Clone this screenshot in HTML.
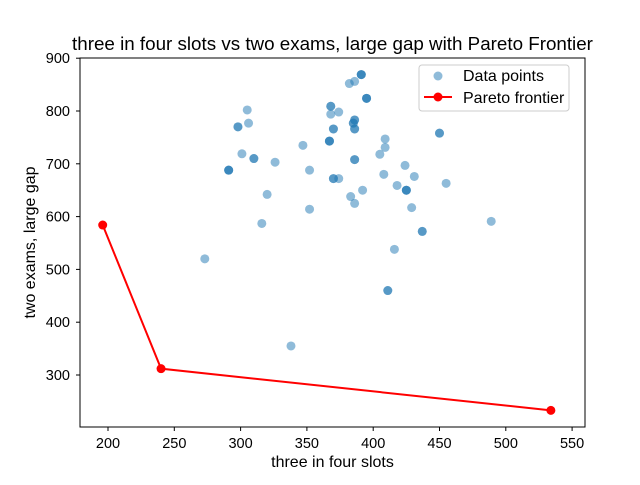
<!DOCTYPE html>
<html><head><meta charset="utf-8"><style>body{margin:0;background:#fff}svg{font-family:"Liberation Sans","DejaVu Sans",sans-serif}</style></head>
<body>
<svg id="chart" width="640" height="480" xmlns="http://www.w3.org/2000/svg"></svg>
<script>
const xTicks=[200,250,300,350,400,450,500,550];
const yTicks=[300,400,500,600,700,800,900];
const dataX=[273,291,291,291,298,298,305,306,301,310,310,326,320,316,338,347,352,352,382,386,391,391,391,395,395,395,368,368,368,374,386,386,385,385,386,386,370,370,367,367,367,409,409,386,386,405,450,450,370,370,374,408,424,431,418,425,425,425,455,392,383,386,429,437,437,489,416,411,411];
const dataY=[520,688,688,688,770,770,802,777,719,710,710,703,642,587,355,735,688,614,852,856,869,869,869,824,824,824,809,809,794,798,783,783,777,777,766,766,766,766,743,743,743,747,731,708,708,718,758,758,672,672,672,680,697,676,659,650,650,650,663,650,638,625,617,572,572,591,538,460,460];
const paretoX=[196,240,534];
const paretoY=[584,312,233];
const L=80,R=585,T=58,B=427;
const sx=v=>108+(v-200)*1.326;
const sy=v=>375-(v-300)*0.528;
const svg=document.getElementById('chart');
const NS='http://www.w3.org/2000/svg';
function mk(tag,attrs,parent){const e=document.createElementNS(NS,tag);for(const k in attrs)e.setAttribute(k,attrs[k]);(parent||svg).appendChild(e);return e;}
const title=mk('text',{x:(L+R)/2,y:50,'text-anchor':'middle','font-size':18.8});title.textContent='three in four slots vs two exams, large gap with Pareto Frontier';


const pts=mk('g',{});


for(let i=0;i<dataX.length;i++){const c=mk('circle',{cx:sx(dataX[i]),cy:sy(dataY[i]),r:4.5,fill:'#1f77b4','fill-opacity':0.5},pts);

}
const line=mk('polyline',{points:paretoX.map((v,i)=>sx(v)+','+sy(paretoY[i])).join(' '),fill:'none',stroke:'red','stroke-width':2});


for(let i=0;i<paretoX.length;i++){const c=mk('circle',{cx:sx(paretoX[i]),cy:sy(paretoY[i]),r:4.5,fill:'red'});

}
const frame=mk('rect',{x:L,y:T,width:R-L,height:B-T,fill:'none',stroke:'#000','stroke-width':1});


xTicks.forEach(v=>{const x=sx(v);mk('line',{x1:x,x2:x,y1:B,y2:B+4,stroke:'#000'});const t=mk('text',{x:x,y:B+21,'text-anchor':'middle','font-size':14.5});t.textContent=v;

});
yTicks.forEach(v=>{const y=sy(v);mk('line',{x1:L-4,x2:L,y1:y,y2:y,stroke:'#000'});const t=mk('text',{x:L-10,y:y+5,'text-anchor':'end','font-size':14.5});t.textContent=v;

});
const xt=mk('text',{x:(L+R)/2,y:467,'text-anchor':'middle','font-size':16});xt.textContent='three in four slots';


const yt=mk('text',{x:35,y:(T+B)/2,'text-anchor':'middle','font-size':16,transform:'rotate(-90 35 '+(T+B)/2+')'});yt.textContent='two exams, large gap';


const lg=mk('g',{});


mk('rect',{x:419,y:65,width:150,height:46,rx:3,fill:'#fff',stroke:'#ccc'},lg);
mk('circle',{cx:438,cy:76,r:4.5,fill:'#1f77b4','fill-opacity':0.5},lg);
const l1=mk('text',{x:463,y:81,'font-size':16},lg);l1.textContent='Data points';


mk('line',{x1:424,x2:452,y1:97,y2:97,stroke:'red','stroke-width':2},lg);
mk('circle',{cx:438,cy:97,r:4.5,fill:'red'},lg);
const l2=mk('text',{x:463,y:103,'font-size':16},lg);l2.textContent='Pareto frontier';


</script>
</body></html>
